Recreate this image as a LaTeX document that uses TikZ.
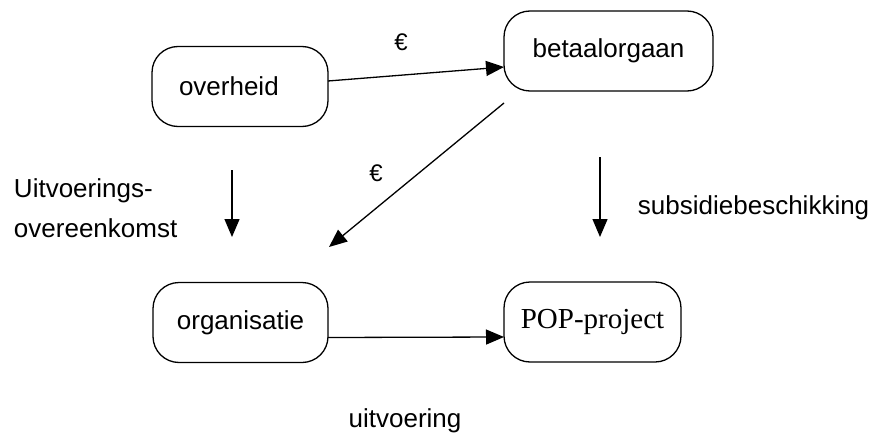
\documentclass[tikz,border=0pt]{standalone}
\usepackage{fontspec}
\setmainfont{Liberation Sans}
\newfontfamily\popfont{Liberation Serif}
\usetikzlibrary{arrows.meta}
\begin{document}
\begin{tikzpicture}[x=1pt, y=-1pt, line width=1.3pt,
  every node/.style={font=\fontsize{26}{40}\selectfont},
  box/.style={draw, rounded corners=26pt, minimum height=80pt, inner sep=0pt, outer sep=0pt},
  pijl/.style={-{Triangle[length=18pt,width=15pt]}},
  euro/.style={font=\fontsize{24}{26}\selectfont}]
  \useasboundingbox (0,0) rectangle (875,436);
  \node [box,minimum width=176pt,text width=122pt,align=left] (overheid) at (240,86.5) {overheid};
  \node [box,minimum width=209pt] (betaal) at (608.5,51) {betaalorgaan};
  \node [box,minimum width=175pt] (org) at (240.5,322.5) {organisatie};
  \node [box,minimum width=177pt] (pop) at (592.5,322) {\popfont\fontsize{29}{30}\selectfont POP-project};
  % losse pijlen
  \coordinate (d1) at (504,103);
  \coordinate (d2) at (329,247);
  \coordinate (l1) at (232,170);
  \coordinate (l2) at (232,237);
  \coordinate (r1) at (600,157);
  \coordinate (r2) at (600,237);
  \draw [pijl] ([yshift=5.5pt]overheid.east) -- ([yshift=-16pt]betaal.west);
  \draw [pijl] (d1) -- (d2);
  \draw [pijl] (l1) -- (l2);
  \draw [pijl] (r1) -- (r2);
  \draw [pijl] ([yshift=-15pt]org.east) -- ([yshift=-15pt]pop.west);
  % labels
  \node [euro] (e1) at (401,42) {€};
  \node [euro] (e2) at (376,173) {€};
  \node [align=left, anchor=west] (uo) at (10,208) {Uitvoerings-\\overeenkomst};
  \node [anchor=west] (sb) at (634,208) {subsidiebeschikking};
  \node (uv) at (405,421) {uitvoering};
\end{tikzpicture}
\end{document}
